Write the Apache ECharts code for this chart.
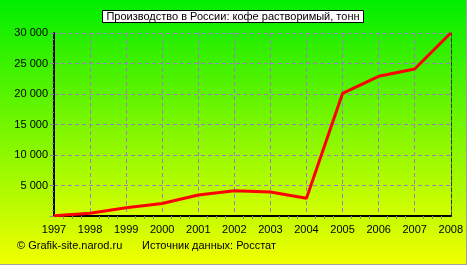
<!DOCTYPE html>
<html>
<head>
<meta charset="utf-8">
<script src="https://cdn.jsdelivr.net/npm/echarts@6/dist/echarts.min.js"></script>
<style>
  html, body { margin: 0; padding: 0; }
  #chart { width: 467px; height: 265px; box-sizing: border-box; border-right: 1px solid #a0a0a0; border-bottom: 1px solid #a0a0a0; }
</style>
</head>
<body>
<div id="chart"></div>
<script>
// данные
const years = [1997, 1998, 1999, 2000, 2001, 2002, 2003, 2004, 2005, 2006, 2007, 2008]
const values = [50, 450, 1350, 2050, 3450, 4150, 3950, 2900, 20100, 22900, 24100, 30000]
const titleText = 'Производство в России: кофе растворимый, тонн'
const footerLeft = '© Grafik-site.narod.ru'
const footerRight = 'Источник данных: Росстат'

const chart = echarts.init(document.getElementById('chart'))

const fmt = function (v) {
  return String(v).replace(/\B(?=(\d{3})+(?!\d))/g, ' ')
}

const gridLine = { show: true, lineStyle: { color: '#9c7cc4', type: [4, 3], width: 1 } }

const option = {
  backgroundColor: new echarts.graphic.LinearGradient(0, 0, 0, 1, [
    { offset: 0, color: '#00ee00' },
    { offset: 1, color: '#f2ff00' }
  ]),
  textStyle: { fontFamily: 'Liberation Sans, Arial, sans-serif' },
  title: [
    {
      text: titleText,
      left: 'center',
      top: 10,
      backgroundColor: '#ffffff',
      borderColor: '#000000',
      borderWidth: 1,
      padding: [1, 4, 1, 4],
      textStyle: { fontSize: 11, fontWeight: 'normal', color: '#000' }
    },
    {
      text: footerLeft,
      left: 17,
      top: 240,
      padding: 0,
      textStyle: { fontSize: 11, fontWeight: 'normal', color: '#000' }
    },
    {
      text: footerRight,
      left: 142,
      top: 240,
      padding: 0,
      textStyle: { fontSize: 11, fontWeight: 'normal', color: '#000' }
    }
  ],
  grid: {
    left: 54,
    top: 33,
    right: 13,
    bottom: 48,
    show: true,
    borderWidth: 0,
    backgroundColor: new echarts.graphic.LinearGradient(0, 0, 0, 1, [
      { offset: 0, color: '#22ee00' },
      { offset: 1, color: '#d4ff00' }
    ])
  },
  xAxis: [
    {
      type: 'value',
      min: 1997,
      max: 2008,
      interval: 1,
      axisLine: { lineStyle: { color: '#000', width: 2 } },
      axisTick: { show: false },
      minorTick: { show: true, splitNumber: 4, length: 3, lineStyle: { color: '#888' } },
      axisLabel: { color: '#000', fontSize: 11, margin: 8, formatter: v => String(v) },
      splitLine: gridLine
    },
    {
      type: 'value',
      position: 'top',
      min: 1997,
      max: 2008,
      axisLine: { show: true, lineStyle: { color: '#000', width: 1 } },
      axisTick: { show: false },
      axisLabel: { show: false },
      splitLine: { show: false }
    }
  ],
  yAxis: [
    {
      type: 'value',
      min: 0,
      max: 30000,
      interval: 5000,
      axisLine: { show: true, lineStyle: { color: '#000', width: 2 } },
      axisTick: { show: true, length: 4, lineStyle: { color: '#888' } },
      minorTick: { show: true, splitNumber: 5, length: 2, lineStyle: { color: '#888' } },
      axisLabel: {
        color: '#000',
        fontSize: 11,
        margin: 6,
        formatter: v => (v === 0 ? '' : fmt(v))
      },
      splitLine: gridLine
    },
    {
      type: 'value',
      position: 'right',
      min: 0,
      max: 30000,
      axisLine: { show: true, lineStyle: { color: '#333', width: 1, type: [4, 2] } },
      axisTick: { show: false },
      axisLabel: { show: false },
      splitLine: { show: false }
    }
  ],
  series: [
    {
      type: 'line',
      data: years.map((y, i) => [y, values[i]]),
      smooth: false,
      showSymbol: false,
      lineStyle: { color: '#ff0000', width: 3 },
      z: 5
    }
  ]
}

chart.setOption(option)
</script>
</body>
</html>
